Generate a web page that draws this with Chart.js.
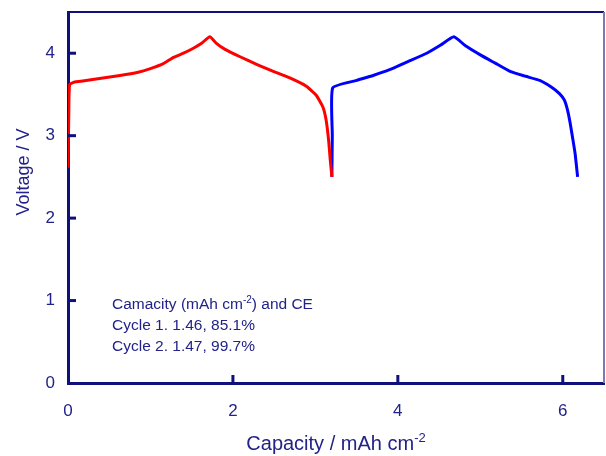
<!DOCTYPE html>
<html>
<head>
<meta charset="utf-8">
<script src="https://cdn.jsdelivr.net/npm/chart.js@4/dist/chart.umd.min.js"></script>
<style>
  body { margin: 0; background: #fff; }
  #grafico { display: block; }
</style>
</head>
<body>
<canvas id="grafico" width="606" height="456"></canvas>
<script>
// ciclo 1 (vermelho) e ciclo 2 (azul)
const ciclo1Cap = [0, 0.01, 0.02, 0.08, 0.3, 0.63, 0.85, 0.99, 1.15, 1.28, 1.4, 1.52, 1.62, 1.72, 1.8, 1.9, 2.08, 2.3, 2.49, 2.69, 2.89, 3.01, 3.09, 3.13, 3.16, 3.18, 3.2];
const ciclo1Volt = [2.61, 3.3, 3.62, 3.65, 3.68, 3.73, 3.77, 3.81, 3.87, 3.95, 4.0, 4.06, 4.12, 4.2, 4.12, 4.05, 3.96, 3.86, 3.78, 3.7, 3.6, 3.49, 3.35, 3.19, 2.95, 2.71, 2.5];

const ciclo2Cap = [3.2, 3.205, 3.21, 3.5, 3.7, 3.9, 4.1, 4.35, 4.52, 4.68, 4.82, 5.0, 5.18, 5.36, 5.55, 5.72, 5.86, 5.96, 6.02, 6.06, 6.09, 6.12, 6.15, 6.18];
const ciclo2Volt = [2.5, 3.0, 3.58, 3.67, 3.73, 3.8, 3.89, 4.0, 4.1, 4.2, 4.09, 3.98, 3.88, 3.78, 3.72, 3.67, 3.59, 3.51, 3.43, 3.3, 3.15, 2.97, 2.78, 2.5];

const ticksX = [0, 2, 4, 6];
const ticksY = [0, 1, 2, 3, 4];

const legendaLinhas = ["Cycle 1. 1.46, 85.1%", "Cycle 2. 1.47, 99.7%"];

const corEixo = "#10107c";
const corTexto = "#22228a";
const fonte = "'Liberation Sans', Arial, sans-serif";

function montarPontos(xs, ys) {
  return xs.map((x, i) => ({ x: x, y: ys[i] }));
}

// texto com expoente "-2"
function textoComExpoente(ctx, base, exp, resto, x, y, tam) {
  ctx.font = `${tam}px ${fonte}`;
  ctx.fillText(base, x, y);
  let px = x + ctx.measureText(base).width;
  ctx.font = `${Math.round(tam * 0.65)}px ${fonte}`;
  ctx.fillText(exp, px, y - tam * 0.38);
  px += ctx.measureText(exp).width;
  if (resto) {
    ctx.font = `${tam}px ${fonte}`;
    ctx.fillText(resto, px, y);
  }
}

const extras = {
  id: "extras",
  afterDraw(chart) {
    const { ctx, chartArea, scales } = chart;
    const { left, right, top, bottom } = chartArea;
    ctx.save();

    // moldura
    ctx.strokeStyle = corEixo;
    ctx.lineWidth = 2;
    ctx.beginPath();
    ctx.moveTo(left, top);
    ctx.lineTo(right, top);
    ctx.stroke();
    ctx.strokeStyle = "#7a7ab8";
    ctx.beginPath();
    ctx.moveTo(right, top);
    ctx.lineTo(right, bottom);
    ctx.stroke();

    // marcas para dentro
    ctx.strokeStyle = corEixo;
    ctx.lineWidth = 3;
    ticksY.forEach((v) => {
      if (v === 0) return;
      const y = scales.y.getPixelForValue(v);
      ctx.beginPath();
      ctx.moveTo(left, y);
      ctx.lineTo(left + 8, y);
      ctx.stroke();
    });
    ticksX.forEach((v) => {
      if (v === 0) return;
      const x = scales.x.getPixelForValue(v);
      ctx.beginPath();
      ctx.moveTo(x, bottom);
      ctx.lineTo(x, bottom - 8);
      ctx.stroke();
    });

    ctx.fillStyle = corTexto;
    ctx.textBaseline = "alphabetic";

    // titulo eixo x
    ctx.font = `20px ${fonte}`;
    const baseX = "Capacity / mAh cm";
    const wBase = ctx.measureText(baseX).width;
    ctx.font = `13px ${fonte}`;
    const wExp = ctx.measureText("-2").width;
    textoComExpoente(ctx, baseX, "-2", "", (left + right) / 2 - (wBase + wExp) / 2, 450, 20);

    // titulo eixo y
    ctx.save();
    ctx.translate(29, 172);
    ctx.rotate(-Math.PI / 2);
    ctx.textAlign = "center";
    ctx.font = `18px ${fonte}`;
    ctx.fillText("Voltage / V", 0, 0);
    ctx.restore();

    // anotacao
    ctx.textAlign = "left";
    textoComExpoente(ctx, "Camacity (mAh cm", "-2", ") and CE", 112, 309, 15.5);
    ctx.font = `15.5px ${fonte}`;
    legendaLinhas.forEach((linha, i) => {
      ctx.fillText(linha, 112, 330 + i * 21);
    });

    ctx.restore();
  },
};

function semPadding(scale) {
  scale.paddingTop = 0;
  scale.paddingBottom = 0;
  scale.paddingLeft = 0;
  scale.paddingRight = 0;
}

const ctx = document.getElementById("grafico").getContext("2d");

new Chart(ctx, {
  type: "scatter",
  data: {
    datasets: [
      {
        label: "Cycle 1",
        data: montarPontos(ciclo1Cap, ciclo1Volt),
        showLine: true,
        borderColor: "#ff0000",
        borderWidth: 3,
        pointRadius: 0,
        tension: 0.15,
      },
      {
        label: "Cycle 2",
        data: montarPontos(ciclo2Cap, ciclo2Volt),
        showLine: true,
        borderColor: "#0000ff",
        borderWidth: 3,
        pointRadius: 0,
        tension: 0.15,
      },
    ],
  },
  options: {
    responsive: false,
    animation: false,
    layout: {
      padding: { top: 12, right: 2, left: 0, bottom: 0 },
    },
    plugins: {
      legend: { display: false },
      tooltip: { enabled: false },
    },
    scales: {
      x: {
        type: "linear",
        min: 0,
        max: 6.5,
        grid: { display: false, drawTicks: false },
        border: { display: true, color: corEixo, width: 3 },
        afterBuildTicks: (scale) => {
          scale.ticks = ticksX.map((v) => ({ value: v }));
        },
        afterFit: (scale) => {
          scale.height = 73;
          semPadding(scale);
        },
        ticks: {
          color: corTexto,
          padding: 18,
          font: { family: fonte, size: 17 },
          maxRotation: 0,
        },
      },
      y: {
        type: "linear",
        min: 0,
        max: 4.5,
        grid: { display: false, drawTicks: false },
        border: { display: true, color: corEixo, width: 3 },
        afterBuildTicks: (scale) => {
          scale.ticks = ticksY.map((v) => ({ value: v }));
        },
        afterFit: (scale) => {
          scale.width = 68;
          semPadding(scale);
        },
        ticks: {
          color: corTexto,
          padding: 13,
          font: { family: fonte, size: 17 },
        },
      },
    },
  },
  plugins: [extras],
});
</script>
</body>
</html>
